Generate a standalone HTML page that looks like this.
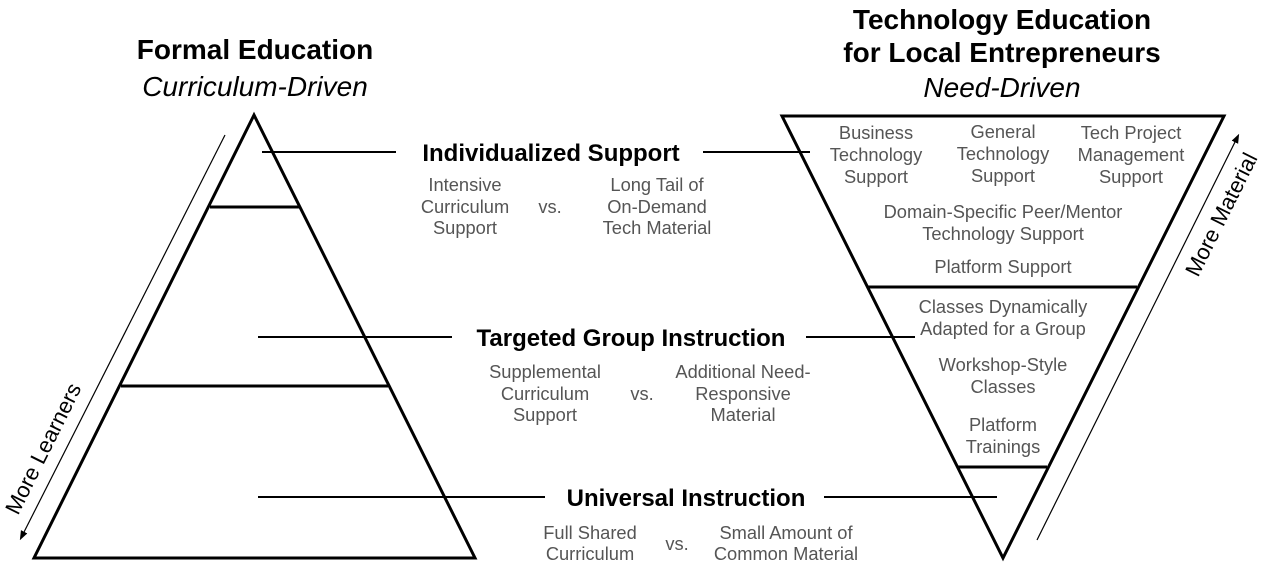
<!DOCTYPE html>
<html><head><style>
body{margin:0;background:#fff}
svg text{font-family:"Liberation Sans",sans-serif}
.h{font-size:28px;font-weight:bold;fill:#000}
.i{font-size:28px;font-style:italic;fill:#000}
.b{font-size:24px;font-weight:bold;fill:#000}
.g{font-size:18.3px;fill:#555}
</style></head><body>
<svg width="1268" height="566" viewBox="0 0 1268 566" xmlns="http://www.w3.org/2000/svg">
<defs><marker id="a" markerWidth="8" markerHeight="8" refX="4" refY="4" orient="auto"><path d="M0,1 L8,4 L0,7 z" fill="#000"/></marker></defs>
<g stroke="#000" stroke-width="3" fill="none">
<polygon points="254,115 34,558 475,558"/>
<line x1="210" y1="207" x2="300" y2="207"/>
<line x1="121" y1="386" x2="388" y2="386"/>
<polygon points="782,116 1224,116 1003,558"/>
<line x1="868" y1="287" x2="1137" y2="287"/>
<line x1="958" y1="467" x2="1047" y2="467"/>
</g>
<g stroke="#000" stroke-width="2">
<line x1="262" y1="152" x2="396" y2="152"/><line x1="703" y1="152" x2="810" y2="152"/>
<line x1="258" y1="337" x2="452" y2="337"/><line x1="806" y1="337" x2="915" y2="337"/>
<line x1="258" y1="497" x2="545" y2="497"/><line x1="824" y1="497" x2="997" y2="497"/>
</g>
<g stroke="#000" stroke-width="1.2">
<line x1="225" y1="135" x2="22" y2="536" marker-end="url(#a)"/>
<line x1="1037" y1="540" x2="1237" y2="138" marker-end="url(#a)"/>
</g>
<text class="h" x="255" y="59" text-anchor="middle">Formal Education</text>
<text class="i" x="255" y="96" text-anchor="middle">Curriculum-Driven</text>
<text class="h" x="1002" y="29" text-anchor="middle">Technology Education</text>
<text class="h" x="1002" y="62" text-anchor="middle">for Local Entrepreneurs</text>
<text class="i" x="1002" y="97" text-anchor="middle">Need-Driven</text>
<text class="b" x="551" y="161" text-anchor="middle">Individualized Support</text>
<text class="b" x="631" y="346" text-anchor="middle">Targeted Group Instruction</text>
<text class="b" x="686" y="506" text-anchor="middle">Universal Instruction</text>
<g class="g" text-anchor="middle">
<text x="465" y="191">Intensive</text><text x="465" y="213">Curriculum</text><text x="465" y="234">Support</text>
<text x="550" y="213">vs.</text>
<text x="657" y="191">Long Tail of</text><text x="657" y="213">On-Demand</text><text x="657" y="234">Tech Material</text>
<text x="545" y="378">Supplemental</text><text x="545" y="400">Curriculum</text><text x="545" y="421">Support</text>
<text x="642" y="400">vs.</text>
<text x="743" y="378">Additional Need-</text><text x="743" y="400">Responsive</text><text x="743" y="421">Material</text>
<text x="590" y="539">Full Shared</text><text x="590" y="560">Curriculum</text>
<text x="677" y="550">vs.</text>
<text x="786" y="539">Small Amount of</text><text x="786" y="560">Common Material</text>
<text x="876" y="139">Business</text><text x="876" y="161">Technology</text><text x="876" y="183">Support</text>
<text x="1003" y="138">General</text><text x="1003" y="160">Technology</text><text x="1003" y="182">Support</text>
<text x="1131" y="139">Tech Project</text><text x="1131" y="161">Management</text><text x="1131" y="183">Support</text>
<text x="1003" y="218">Domain-Specific Peer/Mentor</text><text x="1003" y="240">Technology Support</text>
<text x="1003" y="273">Platform Support</text>
<text x="1003" y="313">Classes Dynamically</text><text x="1003" y="335">Adapted for a Group</text>
<text x="1003" y="371">Workshop-Style</text><text x="1003" y="393">Classes</text>
<text x="1003" y="431">Platform</text><text x="1003" y="453">Trainings</text>
</g>
<text x="0" y="0" font-size="22" fill="#000" transform="translate(18,516) rotate(-63.5)">More Learners</text>
<text x="0" y="0" font-size="22" fill="#000" transform="translate(1198,278) rotate(-63.5)">More Material</text>
</svg>
</body></html>
